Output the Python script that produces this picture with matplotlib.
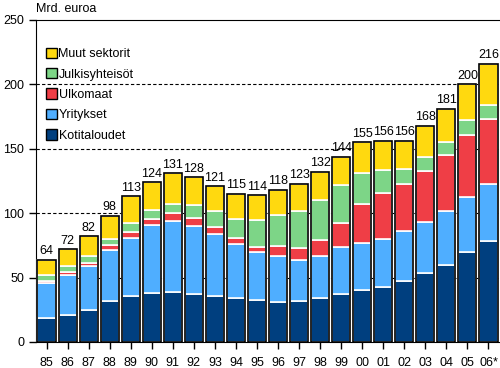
import matplotlib.pyplot as plt
import numpy as np

plt.rcParams['font.family'] = ['Liberation Sans', 'DejaVu Sans']

years = ['85', '86', '87', '88', '89', '90', '91', '92', '93', '94', '95',
         '96', '97', '98', '99', '00', '01', '02', '03', '04', '05', '06*']
totals = [64, 72, 82, 98, 113, 124, 131, 128, 121, 115, 114,
          118, 123, 132, 144, 155, 156, 156, 168, 181, 200, 216]

kotitaloudet = [18.5, 21, 25, 32, 36, 38, 38.5, 37, 36, 34, 32.5,
                31, 31.5, 34, 37, 40, 43, 47.5, 53.5, 60, 70, 78.5]
yritykset = [27, 31, 34, 39.5, 45, 52.5, 55.5, 53, 48, 42, 37.5,
             35.5, 32.5, 33, 36.5, 36.5, 37, 38.5, 40, 41.5, 42.5, 44.5]
ulkomaat = [1.5, 2, 2.5, 3.5, 4.5, 5, 6, 6.5, 5.5, 4.5, 4,
            8, 9, 12, 18.5, 31, 35.5, 36.5, 39, 44, 48.5, 50.5]
julkisyhteisot = [5, 5, 5, 5, 6.5, 7, 7.5, 9.5, 12, 15, 20.5,
                  24, 28.5, 31, 30, 24, 18, 12, 11, 10, 11, 10.5]
# muut sektorit = remainder up to the total
muut = [t - a - b - c - d for t, a, b, c, d in
        zip(totals, kotitaloudet, yritykset, ulkomaat, julkisyhteisot)]

series = [('Kotitaloudet', kotitaloudet, '#003f7f'),
          ('Yritykset', yritykset, '#4faeff'),
          ('Ulkomaat', ulkomaat, '#ef3e46'),
          ('Julkisyhteisöt', julkisyhteisot, '#7dd587'),
          ('Muut sektorit', muut, '#ffd90f')]

fig = plt.figure(figsize=(5, 3.68), dpi=100)
ax = fig.add_axes([0.072, 0.0707, 0.926, 0.875])

x = np.arange(len(years))
w = 0.86
bottom = np.zeros(len(years))
handles = []
for name, vals, col in series:
    vals = np.array(vals)
    ax.bar(x, vals, w, bottom=bottom, color=col, edgecolor='white',
           linewidth=1.2, zorder=3)
    h = plt.Rectangle((0, 0), 1, 1, facecolor=col, edgecolor='black', linewidth=1)
    handles.append((h, name))
    bottom += vals

# black outline round each whole bar
ax.bar(x, totals, w, fill=False, edgecolor='black', linewidth=1.2, zorder=4)

for xi, t in zip(x, totals):
    ax.text(xi, t + 2, str(t), ha='center', va='bottom', fontsize=9)

ax.set_xlim(-0.5, len(years) - 0.5)
ax.set_ylim(0, 250)
ax.set_yticks([0, 50, 100, 150, 200, 250])
ax.set_xticks(x)
ax.set_xticklabels(years)
ax.tick_params(axis='both', labelsize=9, direction='out', length=5, width=1)
ax.tick_params(axis='x', pad=6)
for yv in [50, 100, 150, 200]:
    ax.axhline(yv, color='black', linestyle=(0, (3, 2)), linewidth=0.8, zorder=1)
ax.spines['right'].set_visible(False)

hs = [h for h, n in reversed(handles)]
ns = [n for h, n in reversed(handles)]
ax.legend(hs, ns, loc='upper left', bbox_to_anchor=(0.0, 0.945), frameon=False,
          fontsize=9, handlelength=0.9, handleheight=0.9, handletextpad=0.1,
          labelspacing=0.63, borderaxespad=0.4)

fig.text(0.072, 0.975, 'Mrd. euroa', fontsize=9, va='center', ha='left')

fig.savefig('out.png', dpi=100)
